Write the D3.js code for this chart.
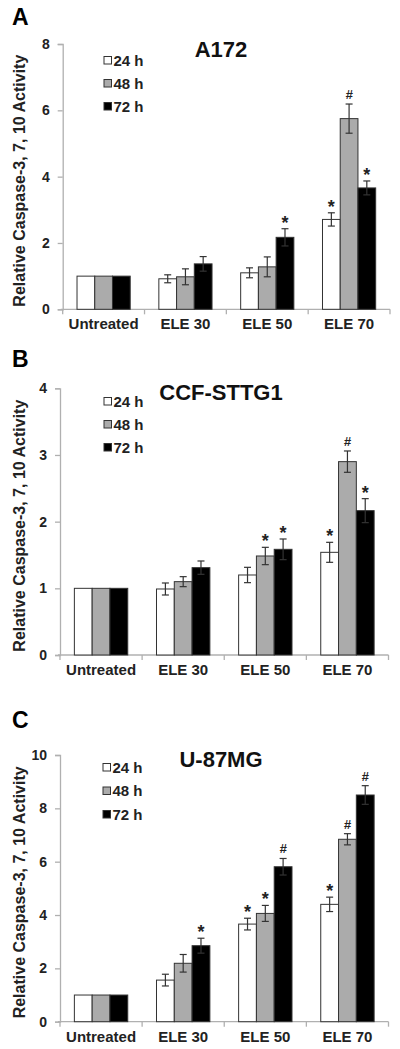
<!DOCTYPE html>
<html>
<head>
<meta charset="utf-8">
<script src="https://cdn.jsdelivr.net/npm/d3@7"></script>
<style>
  html, body { margin: 0; padding: 0; background: #fff; }
  svg { display: block; }
  text { font-family: "Liberation Sans", Arial, sans-serif; font-weight: bold; fill: #222; }
</style>
</head>
<body>
<svg id="chart" width="400" height="1049"></svg>
<script>
// ---------- data ----------
const categories = ["Untreated", "ELE 30", "ELE 50", "ELE 70"];
const seriesNames = ["24 h", "48 h", "72 h"];
const yAxisTitle = "Relative Caspase-3, 7, 10 Activity";

// Panel A: A172
const titleA = "A172";
const ticksA = [0, 2, 4, 6, 8];
const a24 = [1, 0.92, 1.10, 2.71];
const a48 = [1, 0.98, 1.28, 5.75];
const a72 = [1, 1.37, 2.17, 3.66];
const a24err = [0, 0.12, 0.15, 0.20];
const a48err = [0, 0.24, 0.30, 0.44];
const a72err = [0, 0.22, 0.26, 0.21];
const a24sig = ["", "", "", "*"];
const a48sig = ["", "", "", "#"];
const a72sig = ["", "", "*", "*"];

// Panel B: CCF-STTG1
const titleB = "CCF-STTG1";
const ticksB = [0, 1, 2, 3, 4];
const b24 = [1, 0.99, 1.20, 1.54];
const b48 = [1, 1.10, 1.485, 2.90];
const b72 = [1, 1.31, 1.585, 2.165];
const b24err = [0, 0.09, 0.115, 0.15];
const b48err = [0, 0.075, 0.13, 0.16];
const b72err = [0, 0.10, 0.155, 0.18];
const b24sig = ["", "", "", "*"];
const b48sig = ["", "", "*", "#"];
const b72sig = ["", "", "*", "*"];

// Panel C: U-87MG
const titleC = "U-87MG";
const ticksC = [0, 2, 4, 6, 8, 10];
const c24 = [1, 1.56, 3.66, 4.40];
const c48 = [1, 2.19, 4.06, 6.84];
const c72 = [1, 2.85, 5.81, 8.50];
const c24err = [0, 0.22, 0.22, 0.27];
const c48err = [0, 0.33, 0.30, 0.21];
const c72err = [0, 0.28, 0.31, 0.35];
const c24sig = ["", "", "*", "*"];
const c48sig = ["", "", "*", "#"];
const c72sig = ["", "*", "#", "#"];

// ---------- layout ----------
const fills = ["#ffffff", "#ababab", "#000000"];
const panels = [
  { letter: "A", title: titleA, ticks: ticksA,
    values: [a24, a48, a72], errs: [a24err, a48err, a72err], sigs: [a24sig, a48sig, a72sig],
    x0: 62.7, x1: 390, yBottom: 309.3, yTop: 44, letterY: 25, titleY: 56.5,
    legendY: [60, 83, 106], legendX: 104 },
  { letter: "B", title: titleB, ticks: ticksB,
    values: [b24, b48, b72], errs: [b24err, b48err, b72err], sigs: [b24sig, b48sig, b72sig],
    x0: 60, x1: 388.5, yBottom: 655, yTop: 388.3, letterY: 367, titleY: 400,
    legendY: [401, 424, 447], legendX: 104 },
  { letter: "C", title: titleC, ticks: ticksC,
    values: [c24, c48, c72], errs: [c24err, c48err, c72err], sigs: [c24sig, c48sig, c72sig],
    x0: 60, x1: 388.5, yBottom: 1021.7, yTop: 755, letterY: 728, titleY: 767,
    legendY: [767, 790.5, 814], legendX: 103 }
];

const svg = d3.select("#chart");
const axisColor = "#b0b0b0";
const inkColor = "#333";

panels.forEach(p => {
  const g = svg.append("g");
  const yMax = p.ticks[p.ticks.length - 1];
  const y = d3.scaleLinear().domain([0, yMax]).range([p.yBottom, p.yTop]);
  const x = d3.scaleBand().domain(categories).range([p.x0, p.x1]).paddingInner(0.35).paddingOuter(0.175);
  const xs = d3.scaleBand().domain(seriesNames).range([0, x.bandwidth()]);

  // panel letter
  g.append("text").attr("x", 12).attr("y", p.letterY)
    .style("font-size", "23px").style("fill", "#000").text(p.letter);

  // y axis
  const yAxis = d3.axisLeft(y).tickValues(p.ticks).tickSize(5).tickPadding(8).tickFormat(d3.format("d"));
  const ya = g.append("g").attr("transform", `translate(${p.x0},0)`).call(yAxis);
  ya.select(".domain").attr("stroke", axisColor).attr("stroke-width", 1.3);
  ya.selectAll(".tick line").attr("stroke", axisColor).attr("stroke-width", 1.3);
  ya.selectAll(".tick text").style("font-size", "14px").style("font-family", "'Liberation Sans', Arial, sans-serif").style("font-weight", "bold").attr("fill", "#222");

  // x axis
  const xa = g.append("g").attr("transform", `translate(0,${p.yBottom})`);
  xa.append("line").attr("x1", p.x0 - 2).attr("x2", p.x1).attr("y1", 0).attr("y2", 0)
    .attr("stroke", axisColor).attr("stroke-width", 1.3);
  const step = x.step();
  const bounds = d3.range(categories.length + 1).map(i => p.x0 + i * step);
  xa.selectAll(".bt").data(bounds).join("line")
    .attr("x1", d => d).attr("x2", d => d).attr("y1", 0).attr("y2", 5)
    .attr("stroke", axisColor).attr("stroke-width", 1.3);
  xa.selectAll(".xl").data(categories).join("text")
    .attr("x", d => x(d) + x.bandwidth() / 2).attr("y", 20)
    .attr("text-anchor", "middle").style("font-size", "15px").text(d => d);

  // y axis title
  const midY = (p.yTop + p.yBottom) / 2 + 4;
  g.append("text").attr("transform", `translate(24.5,${midY}) rotate(-90)`)
    .attr("text-anchor", "middle").style("font-size", "16px").text(yAxisTitle);

  // bars
  seriesNames.forEach((s, si) => {
    const vals = p.values[si], errs = p.errs[si], sigs = p.sigs[si];
    const data = categories.map((c, ci) => ({ c, v: vals[ci], e: errs[ci], m: sigs[ci] }));
    const bx = d => x(d.c) + xs(s);
    g.selectAll(null).data(data).join("rect")
      .attr("x", bx).attr("y", d => y(d.v))
      .attr("width", xs.bandwidth()).attr("height", d => y(0) - y(d.v))
      .attr("fill", fills[si]).attr("stroke", inkColor).attr("stroke-width", 1);

    // error bars
    const eb = data.filter(d => d.e > 0);
    const cx = d => bx(d) + xs.bandwidth() / 2;
    g.selectAll(null).data(eb).join("line")
      .attr("x1", cx).attr("x2", cx).attr("y1", d => y(d.v - d.e)).attr("y2", d => y(d.v + d.e))
      .attr("stroke", inkColor).attr("stroke-width", 1.2);
    [1, -1].forEach(sign => {
      g.selectAll(null).data(eb).join("line")
        .attr("x1", d => cx(d) - 3.5).attr("x2", d => cx(d) + 3.5)
        .attr("y1", d => y(d.v + sign * d.e)).attr("y2", d => y(d.v + sign * d.e))
        .attr("stroke", inkColor).attr("stroke-width", 1.2);
    });

    // significance markers
    g.selectAll(null).data(data.filter(d => d.m)).join("text")
      .attr("x", cx)
      .attr("y", d => y(d.v + d.e) - (d.m === "*" ? 0 : 5))
      .attr("text-anchor", "middle")
      .style("font-size", d => d.m === "*" ? "18px" : "13px")
      .style("font-style", d => d.m === "#" ? "italic" : "normal")
      .text(d => d.m);
  });

  // title
  g.append("text").attr("x", 221).attr("y", p.titleY).attr("text-anchor", "middle")
    .style("font-size", "22px").style("fill", "#111").text(p.title);

  // legend
  seriesNames.forEach((s, si) => {
    const cy = p.legendY[si];
    g.append("rect").attr("x", p.legendX).attr("y", cy - 3.5).attr("width", 7.5).attr("height", 7.5)
      .attr("fill", fills[si]).attr("stroke", inkColor).attr("stroke-width", 1);
    g.append("text").attr("x", p.legendX + 9.5).attr("y", cy + 5.5)
      .style("font-size", "15px").text(s);
  });
});
</script>
</body>
</html>
